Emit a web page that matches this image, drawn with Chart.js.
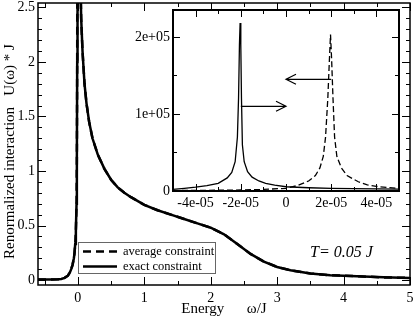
<!DOCTYPE html>
<html lang="en">
<head>
<meta charset="UTF-8">
<title>Renormalized interaction</title>
<script src="https://cdn.jsdelivr.net/npm/chart.js"></script>
<style>
    html, body { margin: 0; padding: 0; background: #fff; }
    #wrap { position: relative; width: 415px; height: 318px; }
    #mainChart { position: absolute; left: 0; top: 0; }
    #insetChart { position: absolute; left: 110px; top: 0; }
</style>
</head>
<body>
<div id="wrap">
    <canvas id="mainChart" width="415" height="318"></canvas>
    <canvas id="insetChart" width="300" height="215"></canvas>
</div>
<script>
    const SERIF = "'Liberation Serif', 'DejaVu Serif', serif";

    // main panel: energy in units of J
    const mainEnergy = [-0.6, -0.5, -0.4, -0.3, -0.25, -0.2, -0.15, -0.12, -0.1, -0.08, -0.06, -0.05, -0.04, -0.03,
        -0.02, -0.015, -0.01, -0.005, 0.035, 0.04, 0.05, 0.07, 0.1, 0.13, 0.17, 0.22, 0.3, 0.4, 0.5, 0.6, 0.7, 0.8,
        1.0, 1.2, 1.4, 1.6, 1.8, 2.0, 2.2, 2.4, 2.6, 2.8, 3.0, 3.2, 3.5, 3.8, 4.2, 4.6, 5.0];
    const mainAverage = [0.005, 0.005, 0.005, 0.007, 0.01, 0.02, 0.04, 0.07, 0.1, 0.14, 0.2, 0.25, 0.33, 0.45,
        0.7, 1.1, 2.0, 4.0, 4.0, 2.7, 2.4, 2.1, 1.8, 1.62, 1.45, 1.3, 1.15, 1.02, 0.92, 0.85, 0.8, 0.76,
        0.69, 0.64, 0.6, 0.56, 0.52, 0.48, 0.42, 0.33, 0.24, 0.17, 0.12, 0.09, 0.06, 0.045, 0.035, 0.025, 0.02];
    const mainExact = [0.005, 0.005, 0.005, 0.007, 0.01, 0.02, 0.04, 0.07, 0.1, 0.14, 0.2, 0.25, 0.33, 0.45,
        0.7, 1.1, 2.0, 4.0, 4.0, 2.7, 2.4, 2.1, 1.8, 1.62, 1.45, 1.3, 1.15, 1.02, 0.92, 0.85, 0.8, 0.76,
        0.69, 0.64, 0.6, 0.56, 0.52, 0.48, 0.42, 0.33, 0.24, 0.17, 0.12, 0.09, 0.06, 0.045, 0.035, 0.025, 0.02];

    const mainXTicks = [0, 1, 2, 3, 4, 5];
    const mainXTickLabels = ['0', '1', '2', '3', '4', '5'];
    const mainXMinor = [-0.5, 0.5, 1.5, 2.5, 3.5, 4.5];
    const mainYTicks = [0, 0.5, 1, 1.5, 2, 2.5];
    const mainYTickLabels = ['0', '0.5', '1', '1.5', '2', '2.5'];
    const mainYMinor = [0.1, 0.2, 0.3, 0.4, 0.6, 0.7, 0.8, 0.9, 1.1, 1.2, 1.3, 1.4, 1.6, 1.7, 1.8, 1.9, 2.1, 2.2, 2.3, 2.4];

    // inset: zoom on the two peaks near zero energy
    const insetAvgEnergy = [-5e-5, -4e-5, -3e-5, -2e-5, -1e-5, 0, 0.5e-5, 1.0e-5, 1.3e-5, 1.5e-5, 1.65e-5, 1.75e-5,
        1.85e-5, 1.92e-5, 1.97e-5, 2.02e-5, 2.08e-5, 2.15e-5, 2.25e-5, 2.45e-5, 2.7e-5, 3.2e-5, 3.6e-5, 4e-5, 4.5e-5, 5e-5];
    const insetAverage = [500, 800, 1000, 1300, 2000, 3500, 7000, 13000, 20000, 30000, 45000, 70000,
        120000, 170000, 203000, 170000, 120000, 70000, 45000, 30000, 20000, 12000, 8000, 6000, 4500, 3500];
    const insetExactEnergy = [-5e-5, -4.5e-5, -4e-5, -3.5e-5, -3e-5, -2.6e-5, -2.4e-5, -2.25e-5, -2.15e-5, -2.1e-5,
        -2.06e-5, -2.03e-5, -2.0e-5, -1.97e-5, -1.93e-5, -1.85e-5, -1.7e-5, -1.5e-5, -1.2e-5, -0.9e-5, -0.5e-5,
        0, 1e-5, 2e-5, 3e-5, 4e-5, 5e-5];
    const insetExact = [2000, 3500, 5000, 7000, 10000, 17000, 24000, 38000, 70000, 120000,
        190000, 218000, 190000, 120000, 60000, 38000, 25000, 18000, 13000, 10000, 7500,
        5500, 4200, 3500, 3000, 2700, 2500];

    const insetXTicks = [-4e-5, -2e-5, 0, 2e-5, 4e-5];
    const insetXTickLabels = ['-4e-05', '-2e-05', '0', '2e-05', '4e-05'];
    const insetXMinor = [-3e-5, -1e-5, 1e-5, 3e-5];
    const insetYTicks = [0, 100000, 200000];
    const insetYTickLabels = ['0', '1e+05', '2e+05'];
    const insetYMinor = [50000, 150000];
    const insetArrows = [
        { from: [2e-5, 145000], to: [0, 145000] },
        { from: [-2e-5, 110000], to: [0, 110000] }
    ];

    // inward ticks on all four sides + frame, like xmgrace
    const frameTicks = {
        id: 'frameTicks',
        beforeDraw(chart, args, opts) {
            if (!opts.fill) return;
            const a = chart.chartArea;
            chart.ctx.save();
            chart.ctx.fillStyle = opts.fill;
            chart.ctx.fillRect(a.left, a.top, a.right - a.left, a.bottom - a.top);
            chart.ctx.restore();
        },
        afterDatasetsDraw(chart, args, opts) {
            const { ctx, chartArea: a, scales } = chart;
            ctx.save();
            ctx.strokeStyle = '#000';
            ctx.lineWidth = 1;
            ctx.beginPath();
            const mark = (s, vals, len) => vals.forEach(v => {
                const p = Math.round(s.getPixelForValue(v)) + 0.5;
                if (s.isHorizontal()) {
                    ctx.moveTo(p, a.bottom); ctx.lineTo(p, a.bottom - len);
                    ctx.moveTo(p, a.top); ctx.lineTo(p, a.top + len);
                } else {
                    ctx.moveTo(a.left, p); ctx.lineTo(a.left + len, p);
                    ctx.moveTo(a.right, p); ctx.lineTo(a.right - len, p);
                }
            });
            mark(scales.x, opts.xMajor, opts.major);
            mark(scales.x, opts.xMinor, opts.minor);
            mark(scales.y, opts.yMajor, opts.major);
            mark(scales.y, opts.yMinor, opts.minor);
            ctx.stroke();
            ctx.lineWidth = opts.frameWidth;
            ctx.strokeRect(a.left, a.top, a.right - a.left, a.bottom - a.top);
            ctx.restore();
        }
    };

    const mainNotes = {
        id: 'mainNotes',
        afterDraw(chart) {
            const ctx = chart.ctx;
            ctx.save();
            ctx.fillStyle = '#fff';
            ctx.fillRect(78, 242, 137, 31);
            ctx.strokeStyle = '#666';
            ctx.lineWidth = 1;
            ctx.strokeRect(78.5, 242.5, 137, 31);
            chart.data.datasets.forEach((ds, i) => {
                const yy = 251.5 + i * 15;
                ctx.strokeStyle = '#000';
                ctx.lineWidth = 2.5;
                ctx.setLineDash(ds.borderDash || []);
                ctx.beginPath();
                ctx.moveTo(83, yy);
                ctx.lineTo(117, yy);
                ctx.stroke();
                ctx.setLineDash([]);
                ctx.fillStyle = '#000';
                ctx.font = '12.5px ' + SERIF;
                ctx.textBaseline = 'middle';
                ctx.fillText(ds.label, 123, yy);
            });
            ctx.font = 'italic 16px ' + SERIF;
            ctx.textBaseline = 'middle';
            ctx.fillText('T= 0.05 J', 310, 253);
            ctx.restore();
        }
    };

    const arrowPlugin = {
        id: 'arrowPlugin',
        afterDatasetsDraw(chart) {
            const { ctx, scales: { x, y } } = chart;
            ctx.save();
            ctx.strokeStyle = '#000';
            ctx.lineWidth = 1.2;
            insetArrows.forEach(ar => {
                const x0 = x.getPixelForValue(ar.from[0]), y0 = y.getPixelForValue(ar.from[1]);
                const x1 = x.getPixelForValue(ar.to[0]), y1 = y.getPixelForValue(ar.to[1]);
                const dir = Math.sign(x1 - x0);
                ctx.beginPath();
                ctx.moveTo(x0, y0); ctx.lineTo(x1, y1);
                ctx.moveTo(x1 - dir * 10, y1 - 5); ctx.lineTo(x1, y1); ctx.lineTo(x1 - dir * 10, y1 + 5);
                ctx.stroke();
            });
            ctx.restore();
        }
    };

    function toPoints(xs, ys) {
        return xs.map((v, i) => ({ x: v, y: ys[i] }));
    }

    function fixed(size, horizontal) {
        return s => {
            if (horizontal) { s.height = size; s.paddingLeft = 0; s.paddingRight = 0; }
            else { s.width = size; s.paddingTop = 0; s.paddingBottom = 0; }
        };
    }

    new Chart(document.getElementById('mainChart'), {
        type: 'line',
        data: {
            datasets: [
                { label: 'average constraint', data: toPoints(mainEnergy, mainAverage), borderColor: '#000',
                  borderWidth: 2.5, borderDash: [8, 5], pointRadius: 0, fill: false, order: 2 },
                { label: 'exact constraint', data: toPoints(mainEnergy, mainExact), borderColor: '#000',
                  borderWidth: 2.5, pointRadius: 0, fill: false, order: 1 }
            ]
        },
        options: {
            responsive: false,
            animation: false,
            layout: { padding: { top: 3, right: 5, left: 0, bottom: 0 } },
            plugins: {
                legend: { display: false },
                tooltip: { enabled: false },
                frameTicks: { xMajor: mainXTicks, xMinor: mainXMinor, yMajor: mainYTicks, yMinor: mainYMinor,
                              major: 8, minor: 4, frameWidth: 1.5 }
            },
            scales: {
                x: {
                    type: 'linear', min: -0.6, max: 5,
                    afterBuildTicks: s => { s.ticks = mainXTicks.map(v => ({ value: v })); },
                    afterFit: fixed(33, true),
                    grid: { display: false, drawTicks: false },
                    border: { display: false },
                    ticks: { autoSkip: false, maxRotation: 0, padding: 5, color: '#000',
                             font: { family: SERIF, size: 14 }, callback: (v, i) => mainXTickLabels[i] },
                    title: { display: true, text: 'Energy      \u03c9/J', color: '#000',
                             font: { family: SERIF, size: 15 }, padding: { top: 0, bottom: 0 } }
                },
                y: {
                    type: 'linear', min: -0.045, max: 2.54,
                    afterBuildTicks: s => { s.ticks = mainYTicks.map(v => ({ value: v })); },
                    afterFit: fixed(38, false),
                    grid: { display: false, drawTicks: false },
                    border: { display: false },
                    ticks: { autoSkip: false, padding: 3, color: '#000',
                             font: { family: SERIF, size: 14 }, callback: (v, i) => mainYTickLabels[i] },
                    // trailing spaces nudge the centred title a few px down, as in the original
                    title: { display: true, text: 'Renormalized interaction   U(\u03c9) * J    ', color: '#000',
                             font: { family: SERIF, size: 15 }, padding: { top: 1, bottom: 0 } }
                }
            }
        },
        plugins: [frameTicks, mainNotes]
    });

    new Chart(document.getElementById('insetChart'), {
        type: 'line',
        data: {
            datasets: [
                { label: 'average constraint', data: toPoints(insetAvgEnergy, insetAverage), borderColor: '#000',
                  borderWidth: 1.3, borderDash: [6, 3], pointRadius: 0, fill: false },
                { label: 'exact constraint', data: toPoints(insetExactEnergy, insetExact), borderColor: '#000',
                  borderWidth: 1.3, pointRadius: 0, fill: false }
            ]
        },
        options: {
            responsive: false,
            animation: false,
            layout: { padding: { top: 10, right: 11, left: 0, bottom: 0 } },
            plugins: {
                legend: { display: false },
                tooltip: { enabled: false },
                frameTicks: { fill: '#fff', xMajor: insetXTicks, xMinor: insetXMinor, yMajor: insetYTicks,
                              yMinor: insetYMinor, major: 7, minor: 4, frameWidth: 2 }
            },
            scales: {
                x: {
                    type: 'linear', min: -5e-5, max: 5e-5,
                    afterBuildTicks: s => { s.ticks = insetXTicks.map(v => ({ value: v })); },
                    afterFit: fixed(24, true),
                    grid: { display: false, drawTicks: false },
                    border: { display: false },
                    ticks: { autoSkip: false, maxRotation: 0, padding: 4, color: '#000',
                             font: { family: SERIF, size: 14 }, callback: (v, i) => insetXTickLabels[i] }
                },
                y: {
                    type: 'linear', min: 0, max: 235000,
                    afterBuildTicks: s => { s.ticks = insetYTicks.map(v => ({ value: v })); },
                    afterFit: fixed(63, false),
                    grid: { display: false, drawTicks: false },
                    border: { display: false },
                    ticks: { autoSkip: false, padding: 3, color: '#000',
                             font: { family: SERIF, size: 14 }, callback: (v, i) => insetYTickLabels[i] }
                }
            }
        },
        plugins: [frameTicks, arrowPlugin]
    });
</script>
</body>
</html>
